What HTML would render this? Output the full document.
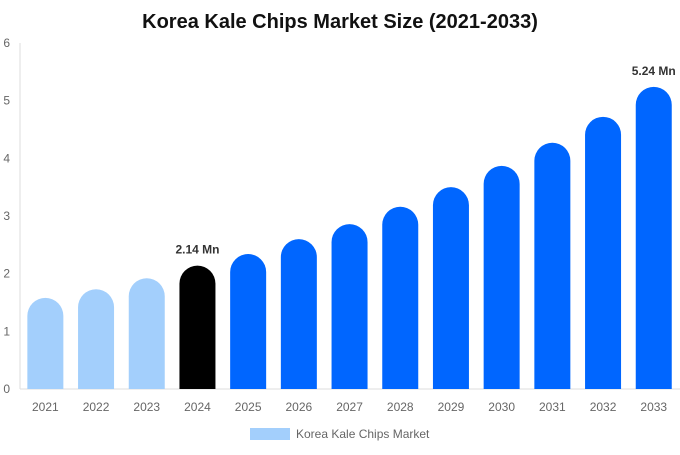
<!DOCTYPE html>
<html><head><meta charset="utf-8"><style>
body{margin:0;background:#fff;font-family:"Liberation Sans",sans-serif;}
</style></head><body>
<svg id="chart" width="680" height="450" xmlns="http://www.w3.org/2000/svg">
<text x="340" y="28" text-anchor="middle" font-size="20" font-weight="bold" fill="#111">Korea Kale Chips Market Size (2021-2033)</text>
<g id="axes"></g><g id="bars"></g>
<g>
<rect x="250" y="428" width="40" height="12" fill="#a3cffc"/>
<text x="296" y="438" font-size="12" fill="#666">Korea Kale Chips Market</text>
</g>
</svg>
<script>
const years=["2021","2022","2023","2024","2025","2026","2027","2028","2029","2030","2031","2032","2033"];
const values=[1.58,1.73,1.92,2.14,2.34,2.6,2.86,3.16,3.5,3.87,4.27,4.72,5.24];
const yTicks=[0,1,2,3,4,5,6];
const labels={3:"2.14 Mn",12:"5.24 Mn"};
const NS="http://www.w3.org/2000/svg";
const y0=389,yTop=43,x0=20,step=50.7,bw=36;
const ys=v=>y0-(v/6)*(y0-yTop);
const xs=i=>x0+step*i+step/2;
const axes=document.getElementById('axes'),bars=document.getElementById('bars');
function mk(t,a,p){const e=document.createElementNS(NS,t);for(const k in a)e.setAttribute(k,a[k]);p.appendChild(e);return e;}
let l=mk('line',{x1:20,x2:20,y1:43,y2:389,stroke:'#ddd'},axes);


l=mk('line',{x1:20,x2:680,y1:389,y2:389,stroke:'#ddd'},axes);


yTicks.forEach(t=>{const e=mk('text',{x:10,y:ys(t)+4,'text-anchor':'end','font-size':12,fill:'#666'},axes);e.textContent=t;

});
years.forEach((yr,i)=>{
const cx=xs(i),top=ys(values[i]),r=bw/2,h=y0-top;
const col=i<3?'#a3cffc':(i===3?'#000':'#0066ff');
const rr=Math.min(r,h);
const d=`M${cx-r},${y0} L${cx-r},${top+rr} A${r},${rr} 0 0 1 ${cx+r},${top+rr} L${cx+r},${y0} Z`;
const p=mk('path',{d:d,fill:col},bars);


const t=mk('text',{x:cx,y:411,'text-anchor':'middle','font-size':12,fill:'#666'},bars);t.textContent=yr;


if(labels[i]){const v=mk('text',{x:cx,y:top-12,'text-anchor':'middle','font-size':12,'font-weight':'bold',fill:'#333'},bars);v.textContent=labels[i];

}
});
</script>
</body></html>
